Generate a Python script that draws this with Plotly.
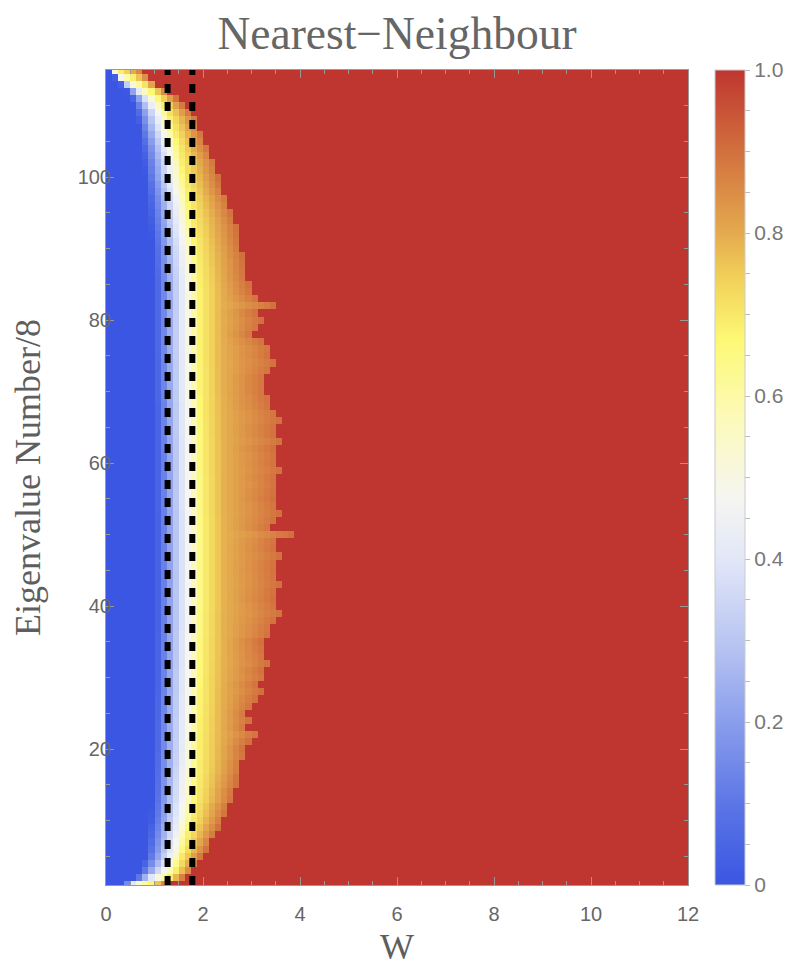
import numpy as np
import plotly.graph_objects as go

# ---- data ----
eigen_rows = list(range(1, 116))          # Eigenvalue Number/8 (row centres)

# W where each row reaches white (~0.47)
w_white = [0.60, 1.00, 1.18, 1.28, 1.35, 1.40, 1.43, 1.46, 1.49, 1.52,
           1.54, 1.55, 1.57, 1.58, 1.59, 1.60, 1.61, 1.62, 1.62, 1.63,
           1.63, 1.64, 1.64, 1.64, 1.65, 1.65, 1.65, 1.66, 1.66, 1.66,
           1.66, 1.67, 1.67, 1.67, 1.67, 1.67, 1.68, 1.68, 1.68, 1.68,
           1.68, 1.68, 1.68, 1.68, 1.68, 1.68, 1.68, 1.68, 1.68, 1.68,
           1.68, 1.68, 1.68, 1.67, 1.67, 1.67, 1.67, 1.67, 1.67, 1.67,
           1.67, 1.67, 1.67, 1.66, 1.66, 1.66, 1.66, 1.66, 1.65, 1.65,
           1.65, 1.65, 1.65, 1.65, 1.64, 1.64, 1.64, 1.64, 1.64, 1.64,
           1.64, 1.64, 1.64, 1.64, 1.64, 1.63, 1.62, 1.61, 1.60, 1.59,
           1.57, 1.55, 1.53, 1.51, 1.49, 1.47, 1.45, 1.42, 1.39, 1.36,
           1.34, 1.32, 1.29, 1.26, 1.22, 1.18, 1.14, 1.10, 1.05, 0.97,
           0.88, 0.72, 0.50, 0.30, 0.15]

# W where each row reaches yellow (~0.68)
w_yellow = [0.95, 1.30, 1.42, 1.48, 1.53, 1.59, 1.63, 1.67, 1.71, 1.75,
            1.78, 1.80, 1.83, 1.85, 1.86, 1.87, 1.88, 1.89, 1.90, 1.90,
            1.91, 1.91, 1.92, 1.92, 1.93, 1.93, 1.94, 1.94, 1.95, 1.95,
            1.96, 1.96, 1.97, 1.97, 1.97, 1.98, 1.98, 1.98, 1.98, 1.99,
            1.99, 1.99, 1.99, 1.99, 1.99, 1.99, 1.99, 1.99, 1.99, 1.99,
            1.99, 1.99, 1.98, 1.98, 1.98, 1.98, 1.98, 1.98, 1.97, 1.97,
            1.97, 1.97, 1.97, 1.96, 1.96, 1.96, 1.95, 1.95, 1.95, 1.94,
            1.94, 1.94, 1.94, 1.93, 1.93, 1.93, 1.93, 1.93, 1.93, 1.93,
            1.93, 1.93, 1.93, 1.93, 1.92, 1.90, 1.89, 1.87, 1.86, 1.84,
            1.82, 1.79, 1.77, 1.75, 1.73, 1.70, 1.68, 1.66, 1.63, 1.60,
            1.57, 1.54, 1.51, 1.48, 1.45, 1.40, 1.35, 1.30, 1.24, 1.17,
            1.08, 0.95, 0.78, 0.55, 0.30]

# W where each row turns fully red (1.0)
w_red = [1.25, 1.60, 1.77, 1.88, 1.97, 2.07, 2.16, 2.25, 2.32, 2.40,
         2.47, 2.52, 2.60, 2.62, 2.70, 2.72, 2.78, 2.80, 2.87, 2.85,
         2.95, 3.12, 2.92, 2.98, 2.93, 3.02, 3.08, 3.20, 3.12, 3.28,
         3.22, 3.35, 3.30, 3.25, 3.20, 3.38, 3.42, 3.50, 3.62, 3.55,
         3.45, 3.48, 3.58, 3.55, 3.50, 3.52, 3.60, 3.48, 3.55, 3.83,
         3.42, 3.50, 3.58, 3.55, 3.45, 3.48, 3.55, 3.48, 3.60, 3.52,
         3.55, 3.45, 3.63, 3.50, 3.48, 3.58, 3.55, 3.40, 3.35, 3.28,
         3.30, 3.28, 3.40, 3.48, 3.38, 3.42, 3.25, 3.05, 3.15, 3.20,
         3.10, 3.48, 3.12, 3.00, 2.95, 2.90, 2.87, 2.85, 2.82, 2.78,
         2.75, 2.72, 2.70, 2.65, 2.60, 2.55, 2.50, 2.42, 2.36, 2.32,
         2.28, 2.25, 2.18, 2.10, 2.04, 1.98, 1.92, 1.86, 1.74, 1.60,
         1.45, 1.25, 1.05, 0.90, 0.78]

critical_W = [1.27, 1.78]                 # dashed vertical lines
x_ticks = [0, 2, 4, 6, 8, 10, 12]
y_ticks = [20, 40, 60, 80, 100]
cb_major = [0, 0.2, 0.4, 0.6, 0.8, 1.0]
cb_major_text = ["0", "0.2", "0.4", "0.6", "0.8", "1.0"]

# ---- build the grid (cell centres in W) ----
W_cells = np.arange(96) * 0.125 + 0.0625
z = []
for ww, wy, wr in zip(w_white, w_yellow, w_red):
    wb = 0.6 * ww
    mid = min(wy + 0.45, 0.5 * (wy + wr))
    row = np.interp(W_cells, [wb, ww, wy, mid, wr - 1e-6],
                    [0.0, 0.47, 0.68, 0.79, 0.90])
    row[W_cells >= wr] = 1.0
    z.append(row.tolist())

colorscale = [
    [0.00, "rgb(58,86,226)"],
    [0.10, "rgb(92,118,230)"],
    [0.20, "rgb(138,158,236)"],
    [0.30, "rgb(186,198,242)"],
    [0.40, "rgb(226,231,248)"],
    [0.48, "rgb(246,246,240)"],
    [0.58, "rgb(252,250,180)"],
    [0.67, "rgb(253,248,115)"],
    [0.75, "rgb(240,205,88)"],
    [0.80, "rgb(228,170,78)"],
    [0.90, "rgb(210,112,62)"],
    [1.00, "rgb(191,54,48)"],
]

cb_vals = [round(i * 0.05, 2) for i in range(21)]
cb_text = [cb_major_text[cb_major.index(v)] if v in cb_major else "" for v in cb_vals]

fig = go.Figure()
fig.add_trace(go.Heatmap(
    x=W_cells, y=eigen_rows, z=z, zmin=0, zmax=1,
    colorscale=colorscale, zsmooth=False, hoverinfo="skip",
    colorbar=dict(
        thickness=30, len=1, lenmode="fraction",
        x=1.0464, xanchor="left", xpad=0, y=0.5, yanchor="middle", ypad=0,
        outlinecolor="#cccccc", outlinewidth=1,
        tickmode="array", tickvals=cb_vals, ticktext=cb_text,
        ticks="outside", ticklen=5, tickcolor="#bbbbbb", tickwidth=1,
        tickfont=dict(family="Liberation Sans", size=21, color="#777777"),
    ),
))

for c in critical_W:
    fig.add_trace(go.Scatter(
        x=[c, c], y=[eigen_rows[0], eigen_rows[-1]], mode="lines",
        line=dict(color="black", width=6, dash="9px,9px"),
        showlegend=False, hoverinfo="skip",
    ))

axis_common = dict(
    showgrid=False, zeroline=False, showline=True, linecolor="#999999",
    linewidth=1, mirror="ticks", ticks="inside", ticklen=8,
    tickcolor="#999999", tickwidth=1,
    tickfont=dict(family="Liberation Sans", size=20, color="#666666"),
)

fig.update_layout(
    width=801, height=973,
    margin=dict(l=98, r=121, t=62, b=96),
    paper_bgcolor="white", plot_bgcolor="white",
    showlegend=False,
    title=dict(text="Nearest\u2212Neighbour", x=0.5, xref="paper",
               y=1, yref="paper", yanchor="bottom", pad=dict(b=21),
               font=dict(family="Liberation Serif", size=45.5, color="#666666")),
    xaxis=dict(range=[0, 12], tickmode="array", tickvals=x_ticks,
               ticklabelstandoff=11,
               minor=dict(dtick=0.5, tick0=0, ticks="inside", ticklen=4,
                          tickcolor="#999999"),
               title=dict(text="W", standoff=9,
                          font=dict(family="Liberation Serif", size=36,
                                    color="#5e5e5e")),
               **axis_common),
    yaxis=dict(range=[1, 115], tickmode="array", tickvals=y_ticks,
               ticklabelstandoff=-10,
               minor=dict(dtick=5, tick0=0, ticks="inside", ticklen=4,
                          tickcolor="#999999"),
               title=dict(text="Eigenvalue Number/8", standoff=32,
                          font=dict(family="Liberation Serif", size=36,
                                    color="#5e5e5e")),
               **axis_common),
)

fig.write_html("out.html")
